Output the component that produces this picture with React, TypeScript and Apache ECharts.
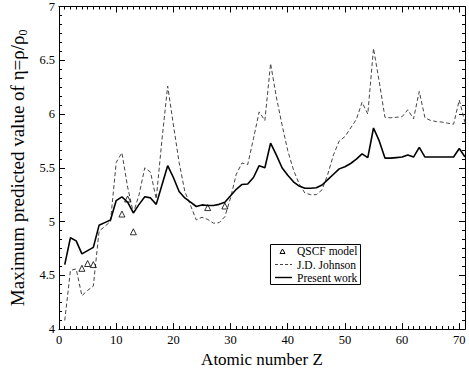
import React, { useEffect, useRef } from "react";
import * as echarts from "echarts";

const atomicNumbers = [
  1, 2, 3, 4, 5, 6, 7, 8, 9, 10, 11, 12, 13, 14, 15, 16, 17, 18, 19, 20,
  21, 22, 23, 24, 25, 26, 27, 28, 29, 30, 31, 32, 33, 34, 35, 36, 37, 38, 39, 40,
  41, 42, 43, 44, 45, 46, 47, 48, 49, 50, 51, 52, 53, 54, 55, 56, 57, 58, 59, 60,
  61, 62, 63, 64, 65, 66, 67, 68, 69, 70, 71,
];

const presentWork = [
  4.6, 4.85, 4.82, 4.7, 4.73, 4.76, 4.965, 4.99, 5.015, 5.195,
  5.23, 5.18, 5.08, 5.16, 5.23, 5.22, 5.16, 5.34, 5.52, 5.41,
  5.28, 5.22, 5.18, 5.14, 5.155, 5.15, 5.15, 5.16, 5.18, 5.24,
  5.3, 5.345, 5.35, 5.41, 5.52, 5.5, 5.73, 5.62, 5.5, 5.43,
  5.37, 5.33, 5.31, 5.31, 5.315, 5.34, 5.39, 5.44, 5.49, 5.51,
  5.54, 5.58, 5.63, 5.595, 5.87, 5.75, 5.59, 5.59, 5.595, 5.6,
  5.62, 5.6, 5.69, 5.6, 5.6, 5.6, 5.6, 5.6, 5.6, 5.68, 5.6,
];

const johnson = [
  4.08, 4.545, 4.56, 4.31, 4.36, 4.4, 4.91, 4.955, 5.0, 5.55,
  5.64, 5.32, 5.08, 5.25, 5.5, 5.46, 5.21, 5.76, 6.26, 5.9,
  5.55, 5.28, 5.15, 5.015, 5.04, 5.02, 4.985, 4.99, 5.045, 5.22,
  5.44, 5.545, 5.53, 5.77, 6.02, 5.94, 6.47, 6.16, 5.9, 5.66,
  5.48, 5.35, 5.265, 5.25, 5.25, 5.295, 5.44, 5.62, 5.75, 5.79,
  5.87, 5.95, 6.11, 6.0, 6.61, 6.3, 5.97, 5.965, 5.97, 5.975,
  6.04, 5.955, 6.21, 5.965, 5.94, 5.93, 5.925, 5.915, 5.905, 6.13, 5.92,
];

const qscfZ = [4, 5, 6, 11, 12, 13, 26, 29];
const qscfValues = [4.565, 4.61, 4.6, 5.07, 5.21, 4.905, 5.13, 5.145];

const seriesNames = ["QSCF model", "J.D. Johnson", "Present work"];
const xTitle = "Atomic number Z";

const FONT = "Liberation Serif";

export default function App() {
  const ref = useRef<HTMLDivElement>(null);

  useEffect(() => {
    if (!ref.current) return;
    const chart = echarts.init(ref.current, undefined, { renderer: "svg" });

    const axisCommon = {
      type: "value" as const,
      axisLine: { show: true, onZero: false, lineStyle: { color: "#000", width: 1 } },
      axisTick: { show: true, inside: true, length: 6, lineStyle: { color: "#000", width: 1 } },
      minorTick: { show: true, length: 3, lineStyle: { color: "#000", width: 1 } },
      splitLine: { show: false },
      minorSplitLine: { show: false },
    };

    const xBase = { ...axisCommon, min: 0, max: 71, interval: 10 };
    const yBase = { ...axisCommon, min: 4, max: 7, interval: 0.5 };

    const lx = 270.5;
    const ly = 244.5;
    const rowY = [251, 264.5, 277.5];
    const legendText = { fill: "#000", fontSize: 11.5, fontFamily: FONT, verticalAlign: "middle" as const, align: "left" as const };

    chart.setOption({
      animation: false,
      backgroundColor: "#fff",
      grid: { left: 39, right: 4, top: 5, bottom: 28, containLabel: false },
      xAxis: [
        {
          ...xBase,
          position: "bottom",
          minorTick: { ...axisCommon.minorTick, splitNumber: 10 },
          axisLabel: { color: "#000", fontSize: 12.5, fontFamily: FONT, margin: 4 },
          name: xTitle,
          nameLocation: "middle",
          nameGap: 11,
          nameTextStyle: { color: "#000", fontSize: 17, fontFamily: FONT, verticalAlign: "top" },
        },
        {
          ...xBase,
          position: "top",
          minorTick: { ...axisCommon.minorTick, splitNumber: 10 },
          axisLabel: { show: false },
        },
      ],
      yAxis: [
        {
          ...yBase,
          position: "left",
          minorTick: { ...axisCommon.minorTick, splitNumber: 6 },
          axisLabel: { color: "#000", fontSize: 12.5, fontFamily: FONT, margin: 4 },
          name: "{a|Maximum predicted value of η=ρ/ρ}{b|0}",
          nameLocation: "middle",
          nameGap: 19,
          nameTextStyle: {
            color: "#000",
            fontFamily: FONT,
            rich: {
              a: { fontSize: 19, lineHeight: 22, fontFamily: FONT, color: "#000" },
              b: { fontSize: 12, lineHeight: 12, verticalAlign: "bottom", fontFamily: FONT, color: "#000" },
            },
          },
        },
        {
          ...yBase,
          position: "right",
          minorTick: { ...axisCommon.minorTick, splitNumber: 6 },
          axisLabel: { show: false },
        },
      ],
      graphic: [
        {
          type: "group",
          z: 100,
          children: [
            {
              type: "rect",
              shape: { x: lx, y: ly, width: 90, height: 40 },
              style: { fill: "#fff", stroke: "#000", lineWidth: 1 },
            },
            {
              type: "polygon",
              shape: { points: [[280, rowY[0] + 2.5], [285, rowY[0] + 2.5], [282.5, rowY[0] - 2]] },
              style: { fill: "none", stroke: "#000", lineWidth: 1 },
            },
            {
              type: "line",
              shape: { x1: 275, y1: rowY[1], x2: 292, y2: rowY[1] },
              style: { stroke: "#444", lineWidth: 1, lineDash: [3, 2] },
            },
            {
              type: "line",
              shape: { x1: 275, y1: rowY[2], x2: 292, y2: rowY[2] },
              style: { stroke: "#000", lineWidth: 1.4 },
            },
            { type: "text", x: 297, y: rowY[0], style: { ...legendText, text: seriesNames[0] } },
            { type: "text", x: 297, y: rowY[1], style: { ...legendText, text: seriesNames[1] } },
            { type: "text", x: 297, y: rowY[2], style: { ...legendText, text: seriesNames[2] } },
          ],
        },
      ],
      series: [
        {
          name: seriesNames[0],
          type: "scatter",
          symbol: "triangle",
          symbolSize: 6,
          itemStyle: { color: "rgba(255,255,255,0)", borderColor: "#000", borderWidth: 1 },
          data: qscfZ.map((z, i) => [z, qscfValues[i]]),
          z: 4,
        },
        {
          name: seriesNames[1],
          type: "line",
          symbol: "none",
          showSymbol: false,
          lineStyle: { color: "#444", width: 1, type: [4, 2.5] },
          itemStyle: { color: "#444" },
          data: atomicNumbers.map((z, i) => [z, johnson[i]]),
          z: 2,
        },
        {
          name: seriesNames[2],
          type: "line",
          symbol: "none",
          showSymbol: false,
          lineStyle: { color: "#000", width: 1.6 },
          itemStyle: { color: "#000" },
          data: atomicNumbers.map((z, i) => [z, presentWork[i]]),
          z: 3,
        },
      ],
    });

    return () => chart.dispose();
  }, []);

  return <div ref={ref} style={{ width: 469, height: 373, position: "absolute", left: 0, top: 0 }} />;
}
